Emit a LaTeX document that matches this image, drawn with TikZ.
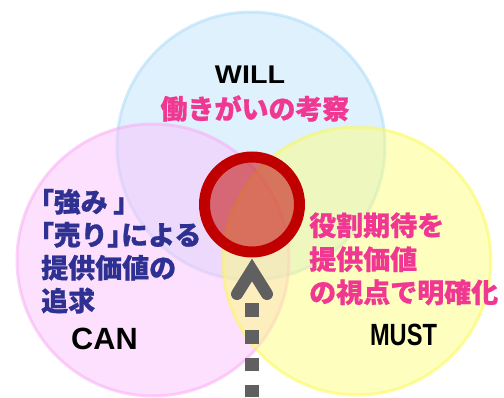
\documentclass[tikz,border=0pt]{standalone}
\usepackage{fontspec}
\setmainfont{Liberation Sans}
\newfontfamily\jpfont{Noto Sans CJK JP}[BoldFeatures={FakeBold=0.8}]
\newcommand\jpbr[1]{{\addfontfeature{RawFeature=+palt}#1}}
\definecolor{bluefill}{RGB}{191,227,251}
\definecolor{bluedraw}{RGB}{168,218,248}
\definecolor{pinkfill}{RGB}{251,193,251}
\definecolor{pinkdraw}{RGB}{249,168,244}
\definecolor{yelfill}{RGB}{253,253,125}
\definecolor{yeldraw}{RGB}{252,249,80}
\definecolor{ringred}{RGB}{192,0,0}
\definecolor{redfill}{RGB}{200,30,30}
\definecolor{pinktext}{RGB}{240,56,146}
\definecolor{navytext}{RGB}{46,49,146}
\definecolor{arrowgray}{RGB}{96,96,96}
\begin{document}
\begin{tikzpicture}[x=1pt,y=-1pt,
  venn/.style={circle, inner sep=0pt, minimum size=#1, line width=3pt, opacity=0.5},
  jptext/.style={inner sep=0pt, anchor=base west, font=\jpfont\bfseries\fontsize{27}{27}\selectfont},
  latin/.style={inner sep=0pt, anchor=base, font=\bfseries\fontsize{#1}{#1}\selectfont}]
\useasboundingbox (0,0) rectangle (504,397);
% Venn circles
\node[venn=268pt, fill=bluefill, draw=bluedraw] (will) at (251,146) {};
\node[venn=272pt, fill=pinkfill, draw=pinkdraw] (can) at (153,260) {};
\node[venn=268pt, fill=yelfill, draw=yeldraw] (must) at (357,261) {};
% red target ring
\node[circle, inner sep=0pt, minimum size=95pt, fill=redfill, fill opacity=0.6,
      draw=ringred, line width=11pt] (ring) at (252,204.5) {};
% arrow
\coordinate (tip) at (252,270);
\coordinate (shafttop) at (252,303);
\coordinate (shaftend) at (252,397);
\draw[arrowgray, line width=14pt, dash pattern=on 13.5pt off 13.8pt] (shafttop) -- (shaftend);
\draw[arrowgray, line width=12pt, line cap=round, line join=miter] (tip) ++(-15,24) -- (tip) -- ++(15,24);
% WILL
\node[latin=25.6] (willlbl) at (250,83) {\scalebox{1.12}[1]{WILL}};
\node[jptext, pinktext, anchor=base] (willtxt) at (255,119) {働きがいの考察};
% CAN
\node[jptext, navytext] (can1) at (40,212) {\jpbr{「}強み\hspace{6pt}\jpbr{」}};
\node[jptext, navytext] (can2) at (40,245) {\jpbr{「}売り\jpbr{」}による};
\node[jptext, navytext] (can3) at (41,278) {提供価値の};
\node[jptext, navytext] (can4) at (41,311) {追求};
\node[latin=30.7] (canlbl) at (104.5,349) {CAN};
% MUST
\node[jptext, pinktext] (must1) at (309,235.5) {役割期待を};
\node[jptext, pinktext] (must2) at (309,269.5) {提供価値};
\node[jptext, pinktext] (must3) at (309,302.5) {の視点で明確化};
\node[latin=30.7] (mustlbl) at (403.5,345) {\scalebox{0.77}[1]{MUST}};
\end{tikzpicture}
\end{document}
